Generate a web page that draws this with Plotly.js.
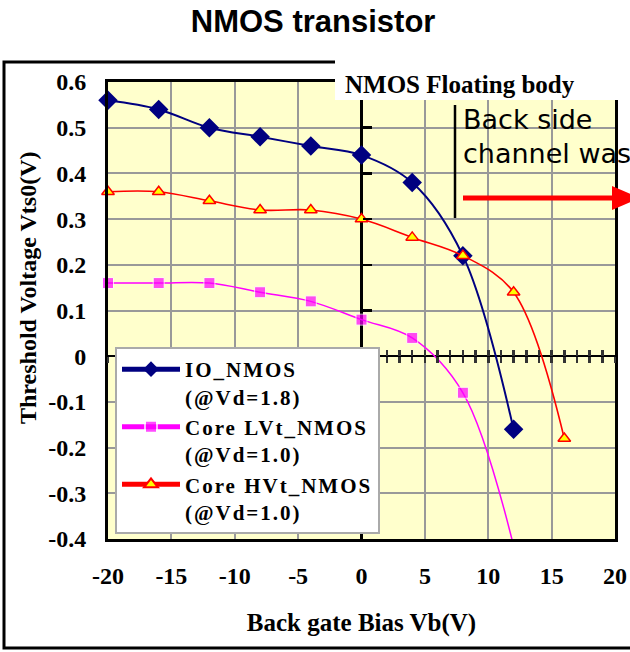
<!DOCTYPE html>
<html><head><meta charset="utf-8">
<script src="https://cdn.plot.ly/plotly-3.0.1.min.js"></script>
<style>html,body{margin:0;padding:0;background:#fff;overflow:hidden}
.legendtext{letter-spacing:2px}</style>
</head><body><div id="chart" style="width:630px;height:652px"></div>
<script>
// ---- data ----
const ioX  = [-20, -16, -12, -8, -4, 0, 4, 8, 12];
const ioY  = [0.56, 0.54, 0.50, 0.48, 0.46, 0.44, 0.38, 0.22, -0.16];
const lvtX = [-20, -16, -12, -8, -4, 0, 4, 8, 12];
const lvtY = [0.16, 0.16, 0.16, 0.14, 0.12, 0.08, 0.04, -0.08, -0.415];
const hvtX = [-20, -16, -12, -8, -4, 0, 4, 8, 12, 16];
const hvtY = [0.36, 0.36, 0.34, 0.32, 0.32, 0.30, 0.26, 0.22, 0.14, -0.18];
const seriesNames = ['IO_NMOS<br>(@Vd=1.8)', 'Core LVt_NMOS<br>(@Vd=1.0)', 'Core HVt_NMOS<br>(@Vd=1.0)'];
const xTickVals = [-20, -15, -10, -5, 0, 5, 10, 15, 20];
const xTickText = ['-20', '-15', '-10', '-5', '0', '5', '10', '15', '20'];
const yTickVals = [-0.4, -0.3, -0.2, -0.1, 0, 0.1, 0.2, 0.3, 0.4, 0.5, 0.6];
const yTickText = ['-0.4', '-0.3', '-0.2', '-0.1', '0', '0.1', '0.2', '0.3', '0.4', '0.5', '0.6'];
const chartTitle = 'NMOS transistor';
const xTitle = 'Back gate Bias Vb(V)';
const yTitle = 'Threshold Voltage Vts0(V)';
const boxLabel = 'NMOS Floating body';
const sideNote = ['Back side', 'channel was'];

// ---- layout helpers ----
const W = 630, H = 652;
const L = 108, R = 615, T = 82, B = 539;
const xRange = [-20, 20], yRange = [-0.4, 0.6];
const px = p => (p - L) / (R - L);
const py = p => (B - p) / (B - T);
const serif = 'Liberation Serif, Times New Roman, serif';

const inRange = (v) => v >= yRange[0] && v <= yRange[1];

const traces = [
  {x: ioX, y: ioY, name: seriesNames[0], mode: 'lines+markers', cliponaxis: false,
   line: {color: '#000080', width: 2, shape: 'spline', smoothing: 1},
   marker: {symbol: 'diamond', size: 15, color: '#000080'}},
  {x: lvtX, y: lvtY, name: seriesNames[1], mode: 'lines+markers', cliponaxis: false,
   line: {color: '#FF00FF', width: 1.5, shape: 'spline', smoothing: 1},
   marker: {symbol: 'square', size: lvtY.map(v => inRange(v) ? 11 : 0), color: '#FF00FF'}},
  {x: hvtX, y: hvtY, name: seriesNames[2], mode: 'lines+markers', cliponaxis: false,
   line: {color: '#FF0000', width: 1.6, shape: 'spline', smoothing: 1},
   marker: {symbol: 'triangle-up', size: 11, color: '#FFFF00', line: {color: '#FF0000', width: 1.5}}},
  // carriers for the zero-line tick axes
  {x: [], y: [], xaxis: 'x2', yaxis: 'y', showlegend: false, hoverinfo: 'skip'},
  {x: [], y: [], xaxis: 'x3', yaxis: 'y', showlegend: false, hoverinfo: 'skip'},
  {x: [], y: [], xaxis: 'x', yaxis: 'y2', showlegend: false, hoverinfo: 'skip'}
];

const zeroY = (0 - yRange[0]) / (yRange[1] - yRange[0]);
const zeroX = (0 - xRange[0]) / (xRange[1] - xRange[0]);

const tickAxisX = (dir) => ({
  overlaying: 'x', anchor: 'free', position: zeroY, range: xRange,
  showgrid: false, zeroline: false, showticklabels: false, showline: false,
  ticks: dir, dtick: 1, tick0: 0, ticklen: 6, tickwidth: 2.5, tickcolor: '#333'
});

const layout = {
  width: W, height: H,
  margin: {l: L, r: W - R, t: T, b: H - B},
  paper_bgcolor: '#ffffff',
  plot_bgcolor: '#FFFFCC',
  showlegend: true,
  title: {text: chartTitle, x: 0.497, xanchor: 'center', y: 1 - 21 / H, yanchor: 'middle', yref: 'container',
          font: {family: 'Liberation Sans, Arial, sans-serif', size: 31, color: '#000', weight: 'bold'}},
  xaxis: {range: xRange, tickvals: xTickVals, ticktext: xTickText, ticks: '',
          ticklabelstandoff: 13,
          showgrid: true, gridcolor: '#999999', gridwidth: 2,
          zeroline: true, zerolinecolor: '#000', zerolinewidth: 2.5,
          showline: true, linecolor: '#000', linewidth: 3, mirror: true,
          tickfont: {family: serif, size: 24, color: '#000', weight: 'bold'},
          title: {text: xTitle, standoff: 26, font: {family: serif, size: 25, color: '#000', weight: 'bold'}}},
  yaxis: {range: yRange, tickvals: yTickVals, ticktext: yTickText, ticks: '',
          ticklabelstandoff: 14,
          showgrid: true, gridcolor: '#999999', gridwidth: 2,
          zeroline: true, zerolinecolor: '#000', zerolinewidth: 2.5,
          showline: true, linecolor: '#000', linewidth: 3, mirror: true,
          tickfont: {family: serif, size: 24, color: '#000', weight: 'bold'}},
  xaxis2: tickAxisX('outside'),
  xaxis3: tickAxisX('inside'),
  yaxis2: {overlaying: 'y', anchor: 'free', position: zeroX, range: yRange,
           showgrid: false, zeroline: false, showticklabels: false, showline: false,
           ticks: 'inside', dtick: 0.1, tick0: 0, ticklen: 9, tickwidth: 2.5, tickcolor: '#000'},
  legend: {x: px(115), y: py(347), xanchor: 'left', yanchor: 'top',
           bgcolor: '#ffffff', bordercolor: '#aaaaaa', borderwidth: 2,
           valign: 'top', tracegroupgap: 0, itemwidth: 58, itemsizing: 'constant',
           font: {family: serif, size: 21, color: '#000', weight: 'bold'}},
  shapes: [
    // outer frame
    {type: 'rect', xref: 'paper', yref: 'paper', x0: px(4), x1: px(645), y0: py(62), y1: py(648),
     line: {color: '#000', width: 3}, layer: 'above'},
    // white label box
    {type: 'rect', xref: 'paper', yref: 'paper', x0: px(335), x1: px(645), y0: py(60), y1: py(100),
     fillcolor: '#ffffff', line: {width: 0}, layer: 'above'},
    // separator line
    {type: 'line', xref: 'paper', yref: 'paper', x0: px(455), x1: px(455), y0: py(105), y1: py(218),
     line: {color: '#000', width: 2.5}, layer: 'above'},
    // arrow shaft
    {type: 'line', xref: 'paper', yref: 'paper', x0: px(463), x1: px(615), y0: py(198), y1: py(198),
     line: {color: '#FF0000', width: 5}, layer: 'above'},
    // arrow head
    {type: 'path', xref: 'paper', yref: 'paper', layer: 'above',
     path: `M ${px(612)} ${py(186)} L ${px(612)} ${py(210)} L ${px(640)} ${py(198)} Z`,
     fillcolor: '#FF0000', line: {width: 0}}
  ],
  annotations: [
    {xref: 'paper', yref: 'paper', x: px(28), y: py(288), xanchor: 'center', yanchor: 'middle',
     text: yTitle, textangle: -90, showarrow: false,
     font: {family: serif, size: 24, color: '#000', weight: 'bold'}},
    {xref: 'paper', yref: 'paper', x: px(343), y: py(84), xanchor: 'left', yanchor: 'middle',
     text: boxLabel, showarrow: false,
     font: {family: serif, size: 25, color: '#000', weight: 'bold'}},
    {xref: 'paper', yref: 'paper', x: px(461), y: py(119), xanchor: 'left', yanchor: 'middle',
     text: sideNote[0], showarrow: false,
     font: {family: 'DejaVu Sans, sans-serif', size: 27, color: '#000'}},
    {xref: 'paper', yref: 'paper', x: px(461), y: py(153), xanchor: 'left', yanchor: 'middle',
     text: sideNote[1], showarrow: false,
     font: {family: 'DejaVu Sans, sans-serif', size: 27, color: '#000'}}
  ]
};

Plotly.newPlot('chart', traces, layout, {displayModeBar: false, staticPlot: true});
</script>
</body></html>
